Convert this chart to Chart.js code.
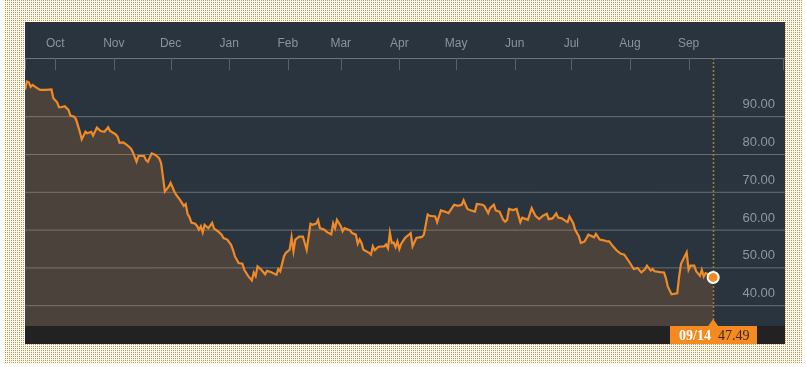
<!DOCTYPE html>
<html>
<head>
<meta charset="utf-8">
<script src="https://cdn.jsdelivr.net/npm/chart.js@4.4.1/dist/chart.umd.min.js"></script>
<style>
  html, body { margin: 0; padding: 0; background: #fff; }
  #frame {
    position: absolute; left: 5px; top: 0; width: 798px; height: 363px;
    background-color: #fff;
    background-image:
      linear-gradient(90deg, transparent 1px, #fff 1px),
      linear-gradient(#ec8628 1px, transparent 1px);
    background-size: 2px 2px;
  }
  #myChart { position: absolute; left: 25px; top: 22px; background: #2a343f; }
</style>
</head>
<body>
<div id="frame"></div>
<canvas id="myChart" width="760" height="322"></canvas>
<script>
// days counted from the first session, 2014-09-15
const startDate = "2014-09-15";

const days = [
  0, 1, 2, 3, 4, 6, 8, 11, 14, 15,
  17, 18, 19, 21, 23, 24, 26, 27, 29, 30,
  32, 33, 35, 36, 38, 40, 42, 44, 45, 48,
  49, 50, 52, 54, 56, 57, 59, 60, 63, 64,
  65, 67, 69, 71, 72, 74, 76, 77, 79, 80,
  82, 84, 85, 86, 87, 88, 90, 91, 92, 93,
  94, 95, 97, 99, 100, 102, 104, 105, 107, 109,
  110, 111, 113, 115, 116, 118, 120, 121, 122, 123,
  125, 127, 128, 130, 133, 134, 135, 137, 138, 140,
  141, 142, 143, 145, 147, 149, 151, 152, 154, 155,
  156, 158, 160, 162, 163, 164, 165, 167, 168, 169,
  172, 173, 175, 176, 177, 178, 179, 182, 183, 184,
  185, 187, 190, 191, 192, 193, 194, 195, 196, 197,
  198, 199, 201, 204, 205, 207, 210, 211, 213, 214,
  217, 218, 220, 222, 224, 227, 229, 231, 232, 234,
  236, 238, 239, 242, 243, 245, 246, 248, 249, 251,
  253, 254, 255, 256, 258, 260, 262, 263, 265, 266,
  268, 270, 272, 274, 276, 277, 279, 281, 282, 284,
  286, 287, 288, 290, 291, 293, 294, 296, 298, 299,
  301, 302, 304, 306, 308, 309, 311, 313, 315, 317,
  320, 322, 324, 326, 328, 329, 331, 332, 333, 336,
  338, 339, 340, 342, 345, 346, 347, 350, 351, 352,
  354, 355, 357, 358, 359, 360, 362, 364
];

const prices = [
  97.1, 99.3, 99.1, 97.9, 98.4, 97.7, 97.1, 97.1, 97.2, 94.9,
  93.8, 92.5, 92.5, 92.8, 91.8, 90.3, 90.0, 89.3, 86.0, 84.0,
  86.0, 85.6, 86.0, 85.0, 87.1, 86.2, 86.0, 87.2, 86.2, 85.3,
  84.7, 83.1, 83.2, 82.5, 81.6, 80.7, 78.1, 79.6, 79.6, 78.5,
  78.1, 80.3, 79.9, 79.0, 77.7, 70.2, 71.5, 72.5, 70.2, 69.3,
  68.0, 66.4, 66.9, 64.3, 63.4, 62.0, 61.7, 61.1, 60.1, 61.0,
  59.4, 61.4, 60.5, 61.9, 60.4, 59.7, 58.8, 57.9, 57.5, 56.1,
  54.8, 53.1, 51.3, 51.1, 49.5, 47.9, 46.7, 48.8, 47.8, 50.4,
  49.5, 48.3, 49.2, 48.9, 48.2, 49.7, 49.1, 53.1, 54.0, 54.8,
  58.1, 54.4, 57.5, 58.3, 58.3, 54.8, 61.7, 61.4, 61.7, 62.7,
  60.5, 60.2, 59.4, 58.9, 61.8, 60.5, 62.7, 61.1, 59.7, 60.5,
  59.9, 59.2, 58.8, 56.4, 57.5, 56.6, 54.8, 54.0, 53.5, 55.7,
  54.7, 55.6, 55.7, 56.2, 55.2, 59.3, 56.6, 56.7, 55.5, 57.0,
  55.0, 56.4, 57.9, 59.2, 55.7, 57.9, 58.2, 58.8, 64.1, 63.8,
  63.6, 62.1, 65.2, 64.9, 64.5, 66.7, 66.4, 66.7, 67.9, 65.6,
  65.2, 64.9, 66.9, 66.7, 66.4, 64.5, 65.8, 66.7, 65.2, 64.9,
  62.7, 62.2, 62.7, 65.6, 65.3, 65.6, 62.1, 63.3, 62.9, 62.7,
  65.8, 63.8, 62.9, 63.8, 64.3, 62.9, 63.1, 64.4, 63.3, 63.1,
  62.4, 62.1, 63.6, 61.8, 60.1, 58.3, 56.6, 57.0, 58.8, 58.6,
  58.1, 59.0, 57.5, 57.3, 57.0, 57.0, 55.7, 54.6, 53.8, 53.5,
  51.3, 49.7, 50.0, 48.8, 49.7, 50.6, 49.3, 49.7, 49.1, 48.9,
  48.8, 47.3, 45.1, 43.0, 43.3, 47.7, 51.1, 54.1, 49.5, 50.6,
  50.6, 49.1, 47.9, 49.5, 47.7, 48.6, 48.2, 47.49
];

const monthLabels = ["Oct", "Nov", "Dec", "Jan", "Feb", "Mar", "Apr", "May", "Jun", "Jul", "Aug", "Sep"];
const monthStarts = ["2014-10-01", "2014-11-01", "2014-12-01", "2015-01-01", "2015-02-01", "2015-03-01",
                     "2015-04-01", "2015-05-01", "2015-06-01", "2015-07-01", "2015-08-01", "2015-09-01"];
const yTicks = [40, 50, 60, 70, 80, 90];
const lastLabel = "09/14";

const dayOf = (s) => (Date.parse(s) - Date.parse(startDate)) / 86400000;

const lastIndex = prices.length - 1;
const points = days.map((d, i) => ({ x: d, y: prices[i] }));

const decorPlugin = {
  id: "decor",
  beforeDatasetsDraw(chart) {
    const ctx = chart.ctx;
    const area = chart.chartArea;
    const y = chart.scales.y;
    const x = chart.scales.x;
    ctx.save();
    ctx.strokeStyle = "rgba(170,170,170,0.5)";
    ctx.lineWidth = 1;
    for (const t of yTicks) {
      const py = y.getPixelForValue(t);
      ctx.beginPath();
      ctx.moveTo(area.left, py);
      ctx.lineTo(area.right, py);
      ctx.stroke();
    }
    // dotted marker at the last session
    const lx = Math.round(x.getPixelForValue(days[lastIndex])) + 0.5;
    ctx.strokeStyle = "#a07f2e";
    ctx.lineWidth = 1.5;
    ctx.setLineDash([2, 2]);
    ctx.beginPath();
    ctx.moveTo(lx, area.top);
    ctx.lineTo(lx, area.bottom);
    ctx.stroke();
    ctx.restore();
  },
  afterDraw(chart) {
    const ctx = chart.ctx;
    const area = chart.chartArea;
    const x = chart.scales.x;
    const y = chart.scales.y;
    ctx.save();

    // top axis line and ticks
    ctx.strokeStyle = "#6e7276";
    ctx.lineWidth = 1;
    ctx.beginPath();
    ctx.moveTo(0, area.top + 0.5);
    ctx.lineTo(chart.width, area.top + 0.5);
    ctx.stroke();
    ctx.strokeStyle = "#5c6167";
    const tickXs = [area.left + 0.5, area.right - 1.5];
    monthStarts.forEach((m) => tickXs.push(Math.round(x.getPixelForValue(dayOf(m))) + 0.5));
    for (const tx of tickXs) {
      ctx.beginPath();
      ctx.moveTo(tx, area.top);
      ctx.lineTo(tx, area.top + 12);
      ctx.stroke();
    }

    ctx.fillStyle = "#8693a0";
    ctx.font = "12px 'Liberation Sans', Arial, sans-serif";
    ctx.textAlign = "center";
    ctx.textBaseline = "middle";
    monthLabels.forEach((lab, i) => {
      ctx.fillText(lab, x.getPixelForValue(dayOf(monthStarts[i])), area.top - 14);
    });

    // price labels on the right, sitting above their grid lines
    ctx.fillStyle = "#8e979f";
    ctx.font = "13px 'Liberation Sans', Arial, sans-serif";
    ctx.textAlign = "right";
    for (const t of yTicks) {
      ctx.fillText(t.toFixed(2), area.right - 10, y.getPixelForValue(t) - 12);
    }

    // bottom strip
    ctx.fillStyle = "#222222";
    ctx.fillRect(0, area.bottom, chart.width, chart.height - area.bottom);

    // last value box
    const px = x.getPixelForValue(days[lastIndex]);
    const boxW = 87;
    const bx = Math.round(px - boxW / 2);
    ctx.fillStyle = "#f58a20";
    ctx.fillRect(bx, area.bottom, boxW, chart.height - area.bottom);
    ctx.beginPath();
    ctx.moveTo(px - 5, area.bottom);
    ctx.lineTo(px, area.bottom - 7);
    ctx.lineTo(px + 5, area.bottom);
    ctx.closePath();
    ctx.fill();

    ctx.textAlign = "left";
    ctx.textBaseline = "middle";
    const ty = area.bottom + 10;
    ctx.fillStyle = "#ffffff";
    ctx.font = "bold 14px 'Liberation Serif', 'DejaVu Serif', serif";
    ctx.fillText(lastLabel, bx + 9, ty);
    ctx.fillStyle = "#3a2a16";
    ctx.font = "14px 'Liberation Serif', 'DejaVu Serif', serif";
    ctx.fillText(prices[lastIndex].toFixed(2), bx + 48, ty);

    ctx.restore();
  }
};

new Chart(document.getElementById("myChart"), {
  type: "line",
  data: {
    datasets: [{
      data: points,
      borderColor: "#f08a26",
      borderWidth: 2.2,
      backgroundColor: "rgba(240,137,42,0.17)",
      fill: "start",
      tension: 0,
      pointRadius: (c) => c.dataIndex === lastIndex ? 5.5 : 0,
      pointHoverRadius: 0,
      pointBackgroundColor: "#f58a20",
      pointBorderColor: "#ffffff",
      pointBorderWidth: 2
    }]
  },
  options: {
    responsive: false,
    devicePixelRatio: 1,
    animation: false,
    events: [],
    layout: { autoPadding: false, padding: { top: 36, bottom: 18, left: 0, right: 0 } },
    plugins: { legend: { display: false }, tooltip: { enabled: false } },
    scales: {
      x: { type: "linear", display: false, min: 0, max: 402 },
      y: { type: "linear", display: false, min: 34.63, max: 105.53 }
    }
  },
  plugins: [decorPlugin]
});
</script>
</body>
</html>
